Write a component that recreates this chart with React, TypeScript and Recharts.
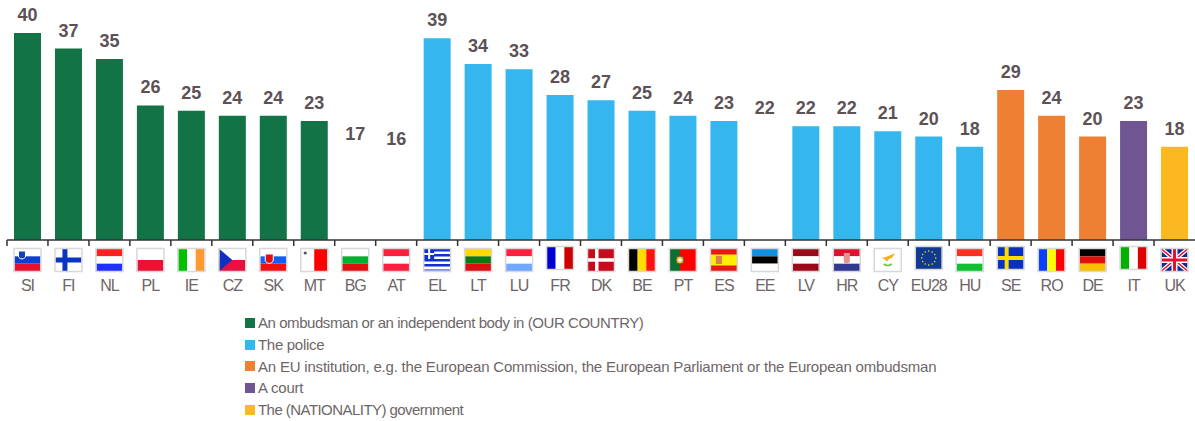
import { BarChart, Bar, XAxis, YAxis, Legend, LabelList } from 'recharts';

const categories = ['SI', 'FI', 'NL', 'PL', 'IE', 'CZ', 'SK', 'MT', 'BG', 'AT', 'EL', 'LT', 'LU', 'FR', 'DK', 'BE', 'PT', 'ES', 'EE', 'LV', 'HR', 'CY', 'EU28', 'HU', 'SE', 'RO', 'DE', 'IT', 'UK'];
const values = [40, 37, 35, 26, 25, 24, 24, 23, 17, 16, 39, 34, 33, 28, 27, 25, 24, 23, 22, 22, 22, 21, 20, 18, 29, 24, 20, 23, 18];
// which answer each country's bar belongs to; '' = the value is printed but no bar is visible
const groups = ['ombudsman', 'ombudsman', 'ombudsman', 'ombudsman', 'ombudsman', 'ombudsman', 'ombudsman', 'ombudsman', '', '', 'police', 'police', 'police', 'police', 'police', 'police', 'police', 'police', '', 'police', 'police', 'police', 'police', 'police', 'eu', 'eu', 'eu', 'court', 'government'];

const seriesKeys = ['ombudsman', 'police', 'eu', 'court', 'government'];
const seriesNames = [
    'An ombudsman or an independent body in (OUR COUNTRY)',
    'The police',
    'An EU institution, e.g. the European Commission, the European Parliament or the European ombudsman',
    'A court',
    'The (NATIONALITY) government',
];
const seriesColors = ['#127346', '#35B6EF', '#EE8034', '#6F5591', '#FBB81F'];
// the original legend is set tighter on some lines than others
const legendSpacing = [-0.44, -0.3, -0.2, -0.2, -0.55];

const data = categories.map((code, i) => ({
    code,
    [groups[i] || 'none']: values[i],
}));

const BAND = 40.97;
const FLAG_W = 26;
const FLAG_H = 22;
const FONT = '"Liberation Sans", Arial, sans-serif';

// plain striped flags, colours listed top to bottom or left to right
const hStripes: Record<string, string[]> = {
    SI: ['#fff', '#0b3fd0', '#e8112d'],
    NL: ['#ff2020', '#fff', '#2030ff'],
    PL: ['#fff', '#ee1133'],
    SK: ['#fff', '#1060ff', '#ee1111'],
    BG: ['#fff', '#00b030', '#e01010'],
    AT: ['#ff2040', '#fff', '#ff2040'],
    LT: ['#ffd800', '#0a7a10', '#d81010'],
    LU: ['#ff2040', '#fff', '#70a8ff'],
    EE: ['#1090e0', '#000', '#fff'],
    LV: ['#9a0a1a', '#fff', '#9a0a1a'],
    HR: ['#e01030', '#fff', '#303a90'],
    HU: ['#ff3020', '#fff', '#10c030'],
    DE: ['#000', '#e01010', '#f8c000'],
};
const vStripes: Record<string, string[]> = {
    IE: ['#00c000', '#fff', '#ff9a30'],
    MT: ['#fff', '#ff0000'],
    FR: ['#0000d0', '#fff', '#cc0000'],
    BE: ['#000', '#ffdd00', '#ff1010'],
    RO: ['#0a40ff', '#ffff00', '#ff0000'],
    IT: ['#00b000', '#fff', '#dd0000'],
};

const FlagDetail = ({ code }: { code: string }) => {
    const w = FLAG_W;
    const h = FLAG_H;
    switch (code) {
        case 'SI':
            return <path d="M4 2h7v6q-3.500 4-7 0z" fill="#1040c0" stroke="#fff" strokeWidth={1} />;
        case 'SK':
            return <path d="M5 5h8v7q-4 5-8 0z" fill="#e01010" stroke="#fff" strokeWidth={1} />;
        case 'HR':
            return <path d="M10 4h6v9q-3 3-6 0z" fill="#e89090" />;
        case 'FI':
            return (
                <>
                    <rect width={w} height={h} fill="#fff" />
                    <rect x={7} width={5} height={h} fill="#0a35c0" />
                    <rect y={8.500} width={w} height={5} fill="#0a35c0" />
                </>
            );
        case 'CZ':
            return (
                <>
                    <rect width={w} height={h / 2} fill="#fff" />
                    <rect y={h / 2} width={w} height={h / 2} fill="#e81040" />
                    <path d={`M0 0L13 ${h / 2}L0 ${h}z`} fill="#1030c0" />
                </>
            );
        case 'MT':
            return <circle cx={4} cy={4} r={1.600} fill="#555" />;
        case 'EL':
            return (
                <>
                    <rect width={w} height={h} fill="#fff" />
                    {[0, 5, 10, 15, 20].map((y) => <rect key={y} y={y} width={w} height={2.500} fill={y === 20 ? '#8890e0' : '#1030d0'} />)}
                    <rect width={10} height={10} fill="#1030d0" />
                    <rect x={4} width={2} height={10} fill="#fff" />
                    <rect y={4} width={10} height={2} fill="#fff" />
                </>
            );
        case 'DK':
            return (
                <>
                    <rect width={w} height={h} fill="#c80a1e" />
                    <rect x={7} width={3.500} height={h} fill="#fff" />
                    <rect y={9.200} width={w} height={3.500} fill="#fff" />
                </>
            );
        case 'PT':
            return (
                <>
                    <rect width={w} height={h} fill="#ff0000" />
                    <rect width={10} height={h} fill="#0a7030" />
                    <circle cx={10} cy={11} r={4} fill="#d8c040" stroke="#805020" />
                    <circle cx={10} cy={11} r={1.800} fill="#fff" />
                </>
            );
        case 'ES':
            return (
                <>
                    <rect width={w} height={h} fill="#e81818" />
                    <rect y={5.500} width={w} height={11} fill="#ffee00" />
                    <rect x={5} y={7} width={6} height={8} fill="#d88050" />
                </>
            );
        case 'CY':
            return (
                <>
                    <rect width={w} height={h} fill="#fff" />
                    <path d="M6 9q7-1 14-5q-2 6-6 6q-1 3-3 2q-1-3-5-3z" fill="#f8b020" />
                    <path d="M9 15q4 3 8 0" fill="none" stroke="#70c040" strokeWidth={1.600} />
                </>
            );
        case 'EU28':
            return (
                <>
                    <rect width={w} height={h} fill="#103a90" />
                    {[0, 30, 60, 90, 120, 150, 180, 210, 240, 270, 300, 330].map((a) => (
                        <circle key={a} cx={13 + 7 * Math.cos((a * Math.PI) / 180)} cy={11 + 7 * Math.sin((a * Math.PI) / 180)} r={0.800} fill="#ffe020" />
                    ))}
                </>
            );
        case 'SE':
            return (
                <>
                    <rect width={w} height={h} fill="#0a30c0" />
                    <rect x={7} width={4} height={h} fill="#ffdd00" />
                    <rect y={9} width={w} height={4} fill="#ffdd00" />
                </>
            );
        case 'UK':
            return (
                <>
                    <rect width={w} height={h} fill="#102a90" />
                    <path d={`M0 0L${w} ${h}M${w} 0L0 ${h}`} stroke="#fff" strokeWidth={4} />
                    <path d={`M0 0L${w} ${h}M${w} 0L0 ${h}`} stroke="#e81030" strokeWidth={1.500} />
                    <rect x={10} width={6} height={h} fill="#fff" />
                    <rect y={8} width={w} height={6} fill="#fff" />
                    <rect x={11.500} width={3} height={h} fill="#e81030" />
                    <rect y={9.500} width={w} height={3} fill="#e81030" />
                </>
            );
        default:
            return null;
    }
};

const Flag = ({ code }: { code: string }) => {
    const h = hStripes[code];
    const v = vStripes[code];
    return (
        <g>
            {h && h.map((c, i) => <rect key={i} y={(i * FLAG_H) / h.length} width={FLAG_W} height={FLAG_H / h.length} fill={c} />)}
            {v && v.map((c, i) => <rect key={i} x={(i * FLAG_W) / v.length} width={FLAG_W / v.length} height={FLAG_H} fill={c} />)}
            <FlagDetail code={code} />
            <rect x={-0.500} y={-0.500} width={FLAG_W + 1} height={FLAG_H + 1} fill="none" stroke="#d8d8d8" strokeWidth={1.500} />
        </g>
    );
};

const raised = ['FR', 'EU28', 'SE', 'IT'];

// boundary tick, flag and code under each bar
const CountryTick = ({ x, y, payload }: any) => (
    <g>
        <line x1={x - BAND / 2} x2={x - BAND / 2} y1={y} y2={y + 6} stroke="#333" strokeWidth={1.500} />
        <g transform={`translate(${x - FLAG_W / 2}, ${y + (raised.includes(payload.value) ? 7 : 9)})`}>
            <Flag code={payload.value} />
        </g>
        <text x={x} y={y + 51} textAnchor="middle" fontFamily={FONT} fontSize={16} letterSpacing={-1} fill="#6e6668">
            {payload.value}
        </text>
    </g>
);

const LegendList = () => (
    <div style={{ fontFamily: FONT, fontSize: 15, color: '#6e6668' }}>
        {seriesNames.map((name, i) => (
            <div key={name} style={{ height: 21.700, display: 'flex', alignItems: 'center', whiteSpace: 'nowrap', letterSpacing: legendSpacing[i] }}>
                <span style={{ width: 10, height: 10, background: seriesColors[i], marginRight: 3, flexShrink: 0 }} />
                {name}
            </div>
        ))}
    </div>
);

export default function App() {
    return (
        <div style={{ position: 'absolute', left: 0, top: 0, width: 1195, height: 421, overflow: 'hidden' }}>
            <BarChart width={1195} height={421} data={data} margin={{ top: 33, right: 0, bottom: 0, left: 7 }} barSize={27}>
                <YAxis hide domain={[0, 40]} />
                <XAxis
                    dataKey="code"
                    interval={0}
                    height={181}
                    tickLine={false}
                    tickSize={0}
                    tickMargin={0}
                    tick={<CountryTick />}
                    axisLine={{ stroke: '#333', strokeWidth: 1.500 }}
                />
                <Legend
                    layout="horizontal"
                    verticalAlign="middle"
                    align="center"
                    content={<LegendList />}
                    wrapperStyle={{ left: 245, top: 312, width: 800 }}
                />
                {['none', ...seriesKeys].map((key) => {
                    const idx = seriesKeys.indexOf(key);
                    return (
                        <Bar
                            key={key}
                            dataKey={key}
                            stackId="a"
                            fill={idx < 0 ? 'none' : seriesColors[idx]}
                            isAnimationActive={false}
                        >
                            <LabelList dataKey={key} position="top" offset={12} fontFamily={FONT} fontSize={18} fontWeight={700} fill="#5c5256" />
                        </Bar>
                    );
                })}
            </BarChart>
        </div>
    );
}
